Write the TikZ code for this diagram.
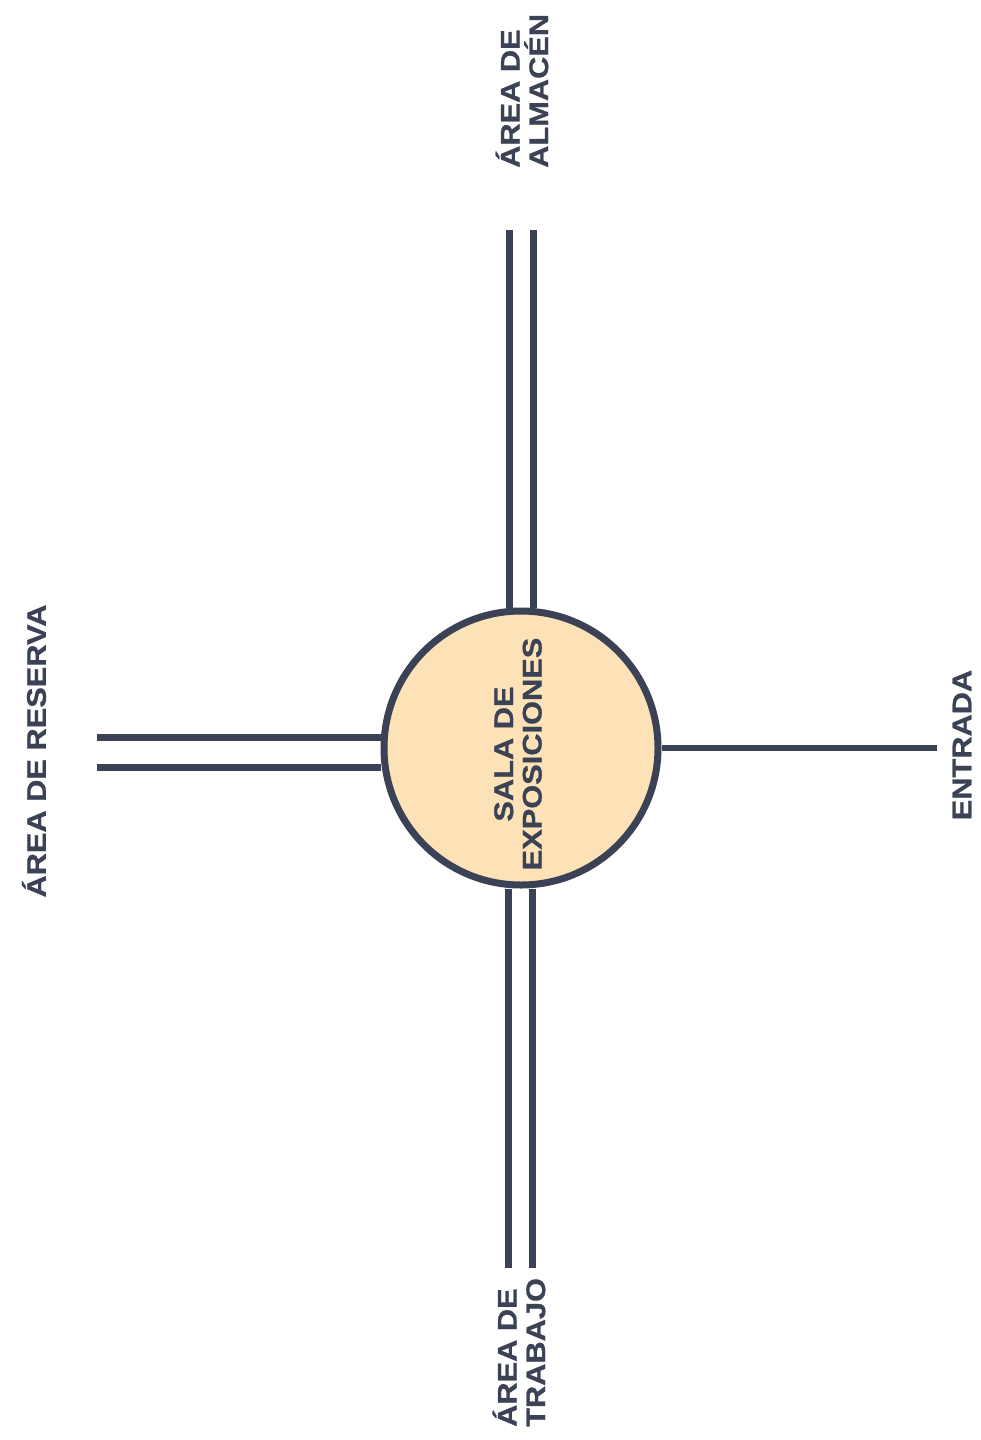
\documentclass[tikz,border=0pt]{standalone}
\usepackage{fontspec}
\newfontfamily\labfont[FakeStretch=1.14,FakeBold=0.8]{Liberation Sans}
\usetikzlibrary{backgrounds}
\definecolor{navy}{HTML}{3B4256}
\definecolor{peach}{HTML}{FDE2B7}
\begin{document}
\begin{tikzpicture}[x=1pt,y=-1pt,
  lab/.style={font=\labfont\bfseries\fontsize{27}{28.5}\selectfont, text=navy, rotate=90, inner sep=0pt},
  room/.style={circle, draw=navy, line width=7pt, fill=peach, minimum size=274pt, inner sep=0pt},
  wall/.style={draw=navy, line width=6.5pt},
  pair/.style={draw=navy, line width=6.5pt, double=white, double distance=#1}]
\useasboundingbox (0,0) rectangle (981,1440);
\node[room] (c) at (521,748) {};
\node[lab, align=center] (sala) at (518,754) {SALA DE\\EXPOSICIONES};
\node[lab] (reserva) at (34,751) {ÁREA DE RESERVA};
\node[lab] (entrada) at (962,745) {ENTRADA};
\node[lab, align=left, anchor=west] (almacen) at (522,168) {ÁREA DE\\ALMACÉN};
\node[lab, align=left, anchor=west] (trabajo) at (519,1427) {ÁREA DE\\TRABAJO};
\coordinate (topend) at (521.5,230);
\coordinate (botend) at (520.5,1268);
\coordinate (leftend) at (97,752.5);
\coordinate (rightend) at (937,748);
\begin{scope}[on background layer]
\draw[pair=17.5pt] (topend) -- (topend |- c.north);
\draw[pair=17.5pt] (botend) -- (botend |- c.south);
\draw[pair=23.5pt] (leftend) -- (leftend -| c.west);
\draw[wall] (rightend) -- (c.east);
\end{scope}
\end{tikzpicture}
\end{document}
